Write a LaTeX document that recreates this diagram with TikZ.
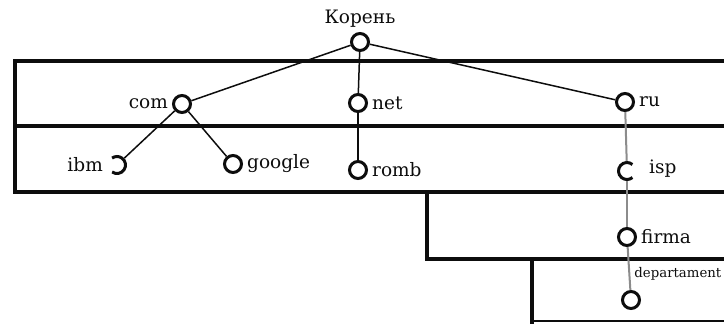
\documentclass[tikz,border=0pt]{standalone}
\usepackage{fontspec}
\setmainfont{DejaVu Serif}
\usetikzlibrary{positioning}
\definecolor{TreeInk}{gray}{0.05}
\definecolor{LinkGray}{gray}{0.55}

\begin{document}
\begin{tikzpicture}[x=1pt,y=-1pt,
  font=\fontsize{18.5}{21}\selectfont,
  frame/.style={draw=TreeInk,line width=4.6pt},
  divider/.style={draw=TreeInk,line width=3.4pt},
  vertex/.style={circle,draw=TreeInk,line width=3pt,fill=white,minimum size=17pt,inner sep=0pt},
  hollow/.style={vertex,draw=none,fill=none},
  arcline/.style={draw=TreeInk,line width=3pt},
  tag/.style={inner sep=1pt,text=TreeInk},
  link/.style={draw=TreeInk,line width=1.5pt},
  faint/.style={draw=LinkGray,line width=2pt},
  every label/.style={tag},
  label distance=3pt,
]
  \useasboundingbox (0,0) rectangle (724,324);
  \clip (0,0) rectangle (724,324);

  % levels of the name space
  \draw[frame] (735,61) -| (15,192) -| (427,259) -| (532,330);
  \draw[divider] (15,126) -- (735,126);
  \draw[frame] (15,192) -- (735,192);
  \draw[frame] (532,259) -- (735,259);
  \draw[divider,line width=2.4pt] (532,321) -- (735,321);

  % tree
  \node[vertex,label=above:Корень] (root) at (360,42) {};
  \node[vertex,label=left:com] (com) at (182,104) {};
  \node[vertex,label=right:net] (net) at (358,103) {};
  \node[vertex,label=right:ru] (ru) at (625,102) {};
  \node[hollow,label=left:ibm] (ibm) at (117,165) {};
  \node[vertex,label=right:google] (google) at (233,164) {};
  \node[vertex,label=right:romb] (romb) at (358,170) {};
  \node[hollow,label={[xshift=8pt,yshift=2pt]right:isp}] (isp) at (627,171) {};
  \node[vertex,label=right:firma] (firma) at (627,237) {};
  \node[vertex,label={[font=\fontsize{13.3}{15}\selectfont,anchor=south west,yshift=6pt]80:departament}] (dept) at (631,300) {};

  \draw[arcline] (ibm.center) ++(125:8.5) arc[start angle=125,end angle=-125,radius=8.5];
  \draw[arcline] (isp.center) ++(-50:8.5) arc[start angle=-50,end angle=-310,radius=8.5];

  \draw[link] (root) -- (com);
  \draw[link] (root) -- (net);
  \draw[link] (root) -- (ru);
  \draw[link] (com) -- (ibm);
  \draw[link] (com) -- (google);
  \draw[link] (net) -- (romb);
  \draw[faint] (ru) -- (isp);
  \draw[faint] (isp) -- (firma);
  \draw[faint] (firma) -- (dept);
\end{tikzpicture}
\end{document}
